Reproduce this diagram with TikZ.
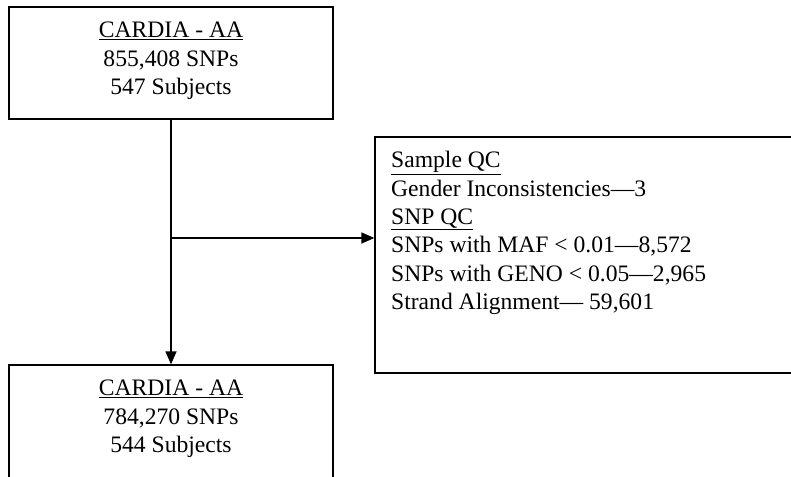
\documentclass[tikz,border=0pt]{standalone}
\usepackage{fontspec}
\setmainfont{Liberation Serif}
\usetikzlibrary{arrows.meta}
\begin{document}
\begin{tikzpicture}[x=1pt,y=1pt,
  box/.style={draw=black, line width=1.3pt, inner sep=0pt, fill=none},
  txt/.style={inner sep=0pt, font=\fontsize{23.6}{28.4}\selectfont},
  conn/.style={draw=black, line width=1.3pt, -{Triangle[length=13pt,width=11pt]}}]
\useasboundingbox (0,0) rectangle (791,-476);
\clip (0,0) rectangle (791,-476);
\fill[white] (0,0) rectangle (791,-476);
% boxes
\node[box, minimum width=324pt, minimum height=112pt] (top) at (171,-63) {};
\node[box, minimum width=324pt, minimum height=130pt] (bot) at (171,-430) {};
\node[box, minimum width=430pt, minimum height=236pt] (qc) at (590,-255) {};
% texts
\node[txt, align=center] (toptxt) at (171,-61) {\underline{CARDIA - AA}\\855,408 SNPs\\547 Subjects};
\node[txt, align=center] (bottxt) at (171,-419) {\underline{CARDIA - AA}\\784,270 SNPs\\544 Subjects};
\node[txt, align=left, anchor=west] (qctxt) at (391,-233) {\underline{Sample QC}\\Gender Inconsistencies—3\\\underline{SNP QC}\\SNPs with MAF < 0.01—8,572\\SNPs with GENO < 0.05—2,965\\Strand Alignment— 59,601};
% connectors
\coordinate (j) at (171,-238);
\draw[conn] (top.south) -- (bot.north);
\draw[conn] (j) -- (j -| qc.west);
\end{tikzpicture}
\end{document}
